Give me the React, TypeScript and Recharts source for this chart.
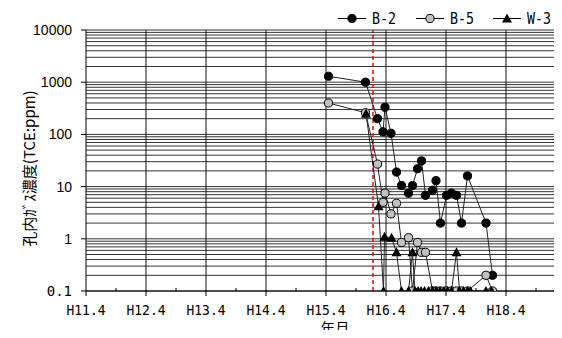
import React from "react";
import { LineChart, Line, XAxis, YAxis, ReferenceLine } from "recharts";

// months counted from H11.4
const boreMonths = [
  48.5, 55.9, 58.3, 59.4, 59.8, 61.0, 62.1, 63.1, 64.5, 65.3, 66.3, 67.1,
  67.9, 69.3, 70.0, 70.9, 72.1, 73.1, 74.1, 75.1, 76.3, 80.0, 81.3,
];
const b2Values = [
  1300, 1000, 200, 112, 330, 105, 19, 10.5, 7.5, 10.5, 22, 31, 6.8, 8.5, 13,
  2, 6.8, 7.5, 6.8, 2, 16, 2, 0.2,
];
const b5Values = [
  400, 260, 27, 5, 7.5, 3, 4.8, 0.85, 1.05, 0.1, 0.85, 0.55, 0.55, 0.1, 0.1,
  0.1, 0.1, 0.1, 0.1, 0.1, 0.1, 0.2, 0.1,
];
const w3Months = [
  56.0, 58.5, 59.5, 59.7, 61.1, 62.1, 63.1, 64.5, 65.3, 65.8, 66.4, 67.0,
  67.7, 68.5, 69.3, 70.0, 70.8, 71.6, 72.3, 73.1, 74.1, 74.7, 75.5, 76.3,
  76.9, 80.0, 81.1,
];
const w3Values = [
  250, 4.2, 0.1, 1.1, 1.05, 0.55, 0.1, 0.1, 0.55, 0.1, 0.1, 0.1, 0.1, 0.1,
  0.1, 0.1, 0.1, 0.1, 0.1, 0.1, 0.55, 0.1, 0.1, 0.1, 0.1, 0.1, 0.1,
];

const seriesNames = ["B-2", "B-5", "W-3"];
const xMajor = [0, 12, 24, 36, 48, 60, 72, 84];
const xTickLabels = ["H11.4", "H12.4", "H13.4", "H14.4", "H15.4", "H16.4", "H17.4", "H18.4"];
const xTicks = [0, 6, 12, 18, 24, 30, 36, 42, 48, 54, 60, 66, 72, 78, 84, 90];
const yTicks = [0.1, 1, 10, 100, 1000, 10000];
const yTickLabels = ["0.1", "1", "10", "100", "1000", "10000"];
const gridDecades = [0.1, 1, 10, 100, 1000];
const gridMantissas = [1, 2, 3, 4, 5, 6, 7, 8, 9];
const markerMonth = 57.4;

const b2Data = boreMonths.map((m, i) => ({ m, v: b2Values[i] }));
const b5Data = boreMonths.map((m, i) => ({ m, v: b5Values[i] }));
const w3Data = w3Months.map((m, i) => ({ m, v: w3Values[i] }));
const hGrid = gridDecades
  .flatMap((d) => gridMantissas.map((k) => +(d * k).toPrecision(3)))
  .concat([10000]);

const monoFont = "'DejaVu Sans Mono', monospace";
const sansFont = "'Liberation Sans', Arial, sans-serif";
const cjkFont = "'Noto Sans CJK JP', sans-serif";

function Marker({ kind, cx, cy }: { kind: string; cx: number; cy: number }) {
  if (kind === "W-3") {
    return (
      <polygon
        points={`${cx},${cy - 5} ${cx - 5},${cy + 4} ${cx + 5},${cy + 4}`}
        fill="#000"
      />
    );
  }
  return (
    <circle
      cx={cx}
      cy={cy}
      r={4.1}
      fill={kind === "B-5" ? "#c0c0c0" : "#000"}
      stroke="#000"
      strokeWidth={1}
    />
  );
}

const dotFor = (kind: string) => (p: any) =>
  <Marker key={`${kind}-${p.index}`} kind={kind} cx={p.cx} cy={p.cy} />;

function XTick({ x, y, payload }: any) {
  const idx = xMajor.indexOf(payload.value);
  return (
    <g>
      {idx >= 0 ? (
        <line x1={x} x2={x} y1={y} y2={y + 5} stroke="#000" />
      ) : (
        <line x1={x} x2={x} y1={y} y2={y - 3} stroke="#000" />
      )}
      {idx >= 0 && (
        <text
          x={x}
          y={y + 24}
          textAnchor="middle"
          fontFamily={monoFont}
          fontSize={13.5}
          textLength={39}
          lengthAdjust="spacingAndGlyphs"
          fill="#000"
        >
          {xTickLabels[idx]}
        </text>
      )}
    </g>
  );
}

function YTick({ x, y, payload }: any) {
  const idx = yTicks.indexOf(payload.value);
  const small = payload.value < 1;
  return (
    <g>
      <line x1={x - 5} x2={x} y1={y} y2={y} stroke="#000" />
      <text
        x={x - 14}
        y={y + 5}
        textAnchor="end"
        fontFamily={small ? monoFont : sansFont}
        fontSize={14}
        fill="#000"
      >
        {yTickLabels[idx]}
      </text>
    </g>
  );
}

function Overlay() {
  const xs = [338, 416, 493];
  return (
    <svg width={562} height={338} style={{ position: "absolute", left: 0, top: 0, pointerEvents: "none" }}>
      {seriesNames.map((name, i) => (
        <g key={name}>
          <line x1={xs[i]} x2={xs[i] + 28} y1={18.5} y2={18.5} stroke="#000" />
          <Marker kind={name} cx={xs[i] + 14} cy={18.5} />
          <text
            x={xs[i] + 34}
            y={24}
            fontFamily={monoFont}
            fontSize={15}
            textLength={24}
            lengthAdjust="spacingAndGlyphs"
            fill="#000"
          >
            {name}
          </text>
        </g>
      ))}
      <text x={335} y={334} textAnchor="middle" fontFamily={cjkFont} fontSize={14.5} fill="#000">
        年月
      </text>
    </svg>
  );
}

export default function App() {
  return (
    <div style={{ margin: -8, position: "relative", width: 562, height: 338, background: "#fff", overflow: "hidden" }}>
      <LineChart width={562} height={338} margin={{ top: 30, right: 1, bottom: 0, left: 0 }}>
        <XAxis
          dataKey="m"
          type="number"
          domain={[0, 95]}
          ticks={xTicks}
          interval={0}
          tickSize={0}
          tickMargin={0}
          tickLine={false}
          tick={<XTick />}
          axisLine={{ stroke: "#000" }}
          height={47}
          allowDataOverflow
        />
        <YAxis
          scale="log"
          type="number"
          domain={[0.1, 10000]}
          ticks={yTicks}
          interval={0}
          tickSize={0}
          tickMargin={0}
          tickLine={false}
          tick={<YTick />}
          axisLine={{ stroke: "#000" }}
          width={86}
          allowDataOverflow
          label={{
            value: "孔内ｶﾞｽ濃度(TCE:ppm)",
            angle: -90,
            position: "insideLeft",
            offset: 30,
            dy: 8,
            style: { fontFamily: cjkFont, fontSize: 15, fill: "#000", textAnchor: "middle" },
          }}
        />
        {hGrid.map((v) => (
          <ReferenceLine key={`h${v}`} y={v} stroke="#333" strokeWidth={1} />
        ))}
        {xMajor.slice(1).map((m) => (
          <ReferenceLine key={`v${m}`} x={m} stroke="#111" strokeWidth={1} />
        ))}
        <ReferenceLine x={markerMonth} stroke="#ff0000" strokeWidth={1.5} strokeDasharray="4 3" />
        <Line
          data={b2Data}
          dataKey="v"
          name="B-2"
          stroke="#222"
          strokeWidth={1}
          dot={dotFor("B-2")}
          isAnimationActive={false}
        />
        <Line
          data={b5Data}
          dataKey="v"
          name="B-5"
          stroke="#222"
          strokeWidth={1}
          dot={dotFor("B-5")}
          isAnimationActive={false}
        />
        <Line
          data={w3Data}
          dataKey="v"
          name="W-3"
          stroke="#222"
          strokeWidth={1}
          dot={dotFor("W-3")}
          isAnimationActive={false}
        />
      </LineChart>
      <Overlay />
    </div>
  );
}
